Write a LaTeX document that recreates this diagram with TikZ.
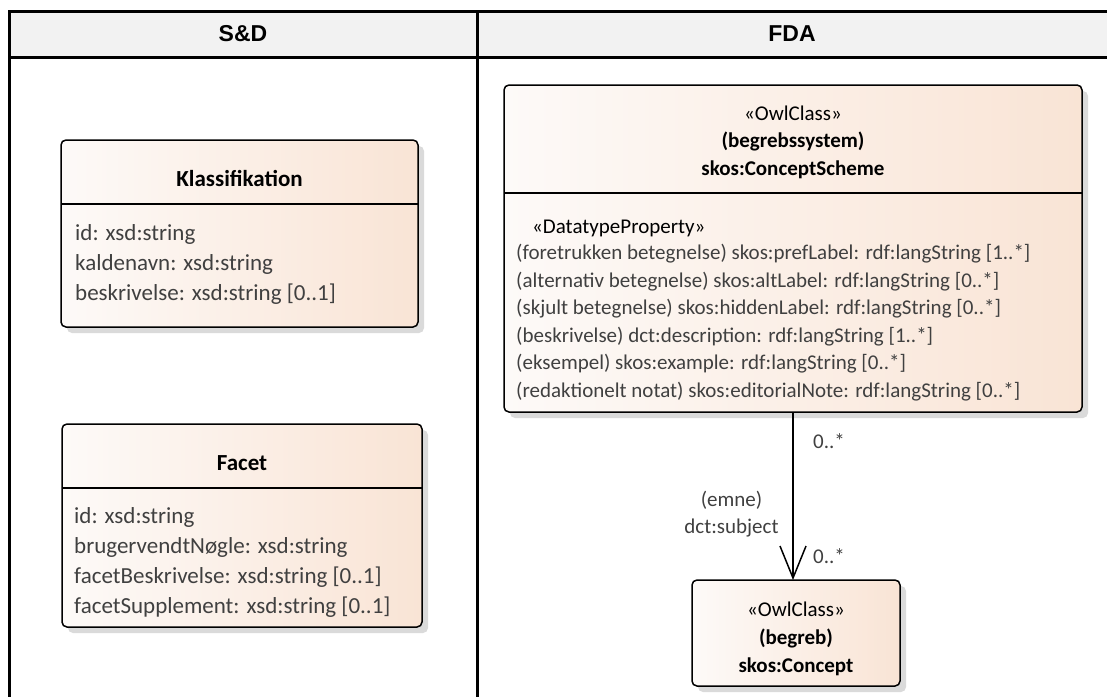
\documentclass[tikz,border=0pt]{standalone}
\usepackage{fontspec}
\setmainfont{Carlito}
\newfontfamily\hdrfont{Liberation Sans}
\usetikzlibrary{arrows.meta}
\definecolor{hdrfill}{RGB}{242,242,242}
\definecolor{boxL}{RGB}{253,250,248}
\definecolor{boxR}{RGB}{249,228,213}
\definecolor{shadowc}{RGB}{218,218,218}
\definecolor{attrc}{RGB}{64,64,64}
\begin{document}
\begin{tikzpicture}[x=1pt,y=-1pt,
  frame/.style={line width=3pt},
  umlbox/.style={draw=black,line width=1.5pt,rounded corners=5pt,left color=boxL,right color=boxR,anchor=north west,inner sep=0pt,outer sep=0pt},
  boxshadow/.style={fill=shadowc,rounded corners=5pt},
  sepline/.style={line width=1.5pt},
  hdr/.style={font=\hdrfont\bfseries\fontsize{23}{28}\selectfont,inner sep=0pt},
  titleS/.style={font=\bfseries\fontsize{23}{28}\selectfont,anchor=base,inner sep=0pt},
  attrS/.style={font=\fontsize{23}{28}\selectfont,text=attrc,anchor=base west,inner sep=0pt},
  titleF/.style={font=\fontsize{21}{26}\selectfont,anchor=base,inner sep=0pt},
  attrF/.style={font=\fontsize{21}{26}\selectfont,text=attrc,anchor=base west,inner sep=0pt},
  lbl/.style={font=\fontsize{21}{26}\selectfont,text=attrc,inner sep=0pt},
  conn/.style={line width=1.5pt,-{Straight Barb[length=32pt,width=26pt,line width=1.5pt]}}
]
\useasboundingbox (0,0) rectangle (1107,697);
% swimlane frame
\fill[hdrfill] (9,11) rectangle (1107,57);
\draw[frame] (1107,11) -- (9,11) -- (9,697);
\draw[frame] (9,57) -- (1107,57);
\draw[frame] (477,11) -- (477,697);
\node[hdr] (sd) at (243,34) {S\&D};
\node[hdr] (fda) at (792,34) {FDA};

% Klassifikation
\fill[boxshadow] (67,146) rectangle (424,333);
\node[umlbox,minimum width=357pt,minimum height=187pt] (kl) at (61,140) {};
\draw[sepline] (61,204) -- (418,204);
\node[titleS] (klt) at (239.5,186) {Klassifikation};
\node[attrS] (kl1) at (75,240) {id: xsd:string};
\node[attrS] (kl2) at (75,270) {kaldenavn: xsd:string};
\node[attrS] (kl3) at (75,300) {beskrivelse: xsd:string [0..1]};

% Facet
\fill[boxshadow] (68,430) rectangle (428,633);
\node[umlbox,minimum width=360pt,minimum height=203pt] (fa) at (62,424) {};
\draw[sepline] (62,488) -- (422,488);
\node[titleS] (fat) at (242,470) {Facet};
\node[attrS] (fa1) at (74,523) {id: xsd:string};
\node[attrS] (fa2) at (74,553) {brugervendtNøgle: xsd:string};
\node[attrS] (fa3) at (74,583) {facetBeskrivelse: xsd:string [0..1]};
\node[attrS] (fa4) at (74,613) {facetSupplement: xsd:string [0..1]};

% skos:ConceptScheme
\fill[boxshadow] (510,91) rectangle (1088,418);
\node[umlbox,minimum width=578pt,minimum height=327pt] (cs) at (504,85) {};
\draw[sepline] (504,193) -- (1082,193);
\node[titleF] (cs1) at (793,120) {«OwlClass»};
\node[titleF,font=\bfseries\fontsize{21}{26}\selectfont] (cs2) at (793,147) {(begrebssystem)};
\node[titleF,font=\bfseries\fontsize{21}{26}\selectfont] (cs3) at (793,175) {skos:ConceptScheme};
\node[attrF,text=black] (csa0) at (532,233) {«DatatypeProperty»};
\node[attrF] (csa1) at (516,259.5) {(foretrukken betegnelse) skos:prefLabel: rdf:langString [1..*]};
\node[attrF] (csa2) at (516,287) {(alternativ betegnelse) skos:altLabel: rdf:langString [0..*]};
\node[attrF] (csa3) at (516,314.5) {(skjult betegnelse) skos:hiddenLabel: rdf:langString [0..*]};
\node[attrF] (csa4) at (516,342) {(beskrivelse) dct:description: rdf:langString [1..*]};
\node[attrF] (csa5) at (516,369.5) {(eksempel) skos:example: rdf:langString [0..*]};
\node[attrF] (csa6) at (516,397) {(redaktionelt notat) skos:editorialNote: rdf:langString [0..*]};

% skos:Concept
\fill[boxshadow] (698,586) rectangle (906,692);
\node[umlbox,minimum width=208pt,minimum height=106pt] (cc) at (692,580) {};
\node[titleF] (cc1) at (796,616) {«OwlClass»};
\node[titleF,font=\bfseries\fontsize{21}{26}\selectfont] (cc2) at (796,644) {(begreb)};
\node[titleF,font=\bfseries\fontsize{21}{26}\selectfont] (cc3) at (796,672) {skos:Concept};

% association
\draw[conn] (cs.south) -- (cs.south |- cc.north);
\node[lbl,anchor=base west] (m1) at (813,448) {0..*};
\node[lbl,anchor=base west] (m2) at (813,563) {0..*};
\node[lbl,anchor=base] (r1) at (731.5,506) {(emne)};
\node[lbl,anchor=base] (r2) at (731.5,533) {dct:subject};
\end{tikzpicture}
\end{document}
